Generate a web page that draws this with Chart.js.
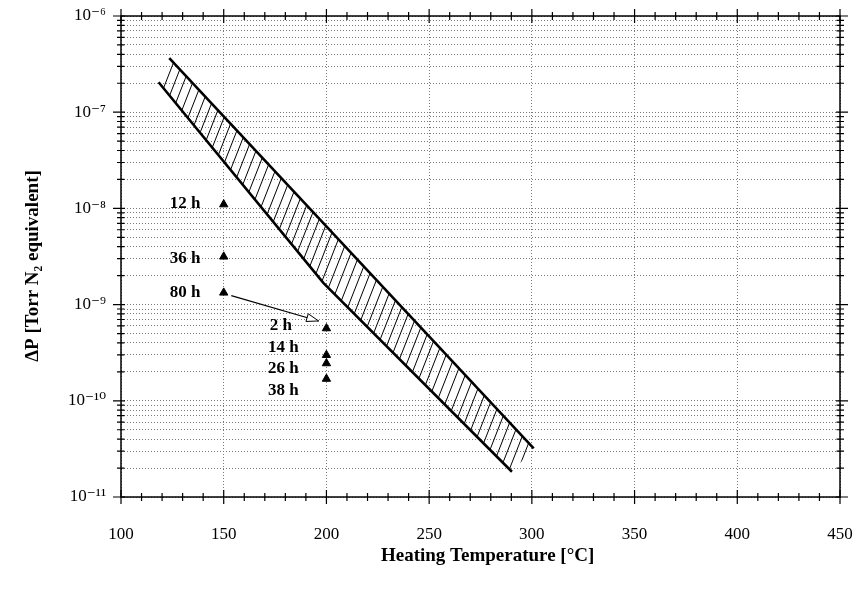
<!DOCTYPE html>
<html><head><meta charset="utf-8">
<script src="https://cdn.jsdelivr.net/npm/chart.js@4.4.0/dist/chart.umd.min.js"></script>
<style>html,body{margin:0;padding:0;background:#fff}</style>
</head><body>
<canvas id="c" width="857" height="600" style="width:857px;height:600px;display:block"></canvas>
<script>
// ---- data ----
const xTickLabels = [100, 150, 200, 250, 300, 350, 400, 450];
const yDecades = [1e-11, 1e-10, 1e-9, 1e-8, 1e-7, 1e-6];
const yTickLabels = ['10⁻¹¹', '10⁻¹⁰', '10⁻⁹', '10⁻⁸', '10⁻⁷', '10⁻⁶'];
const yMinorMultipliers = [1, 2, 3, 4, 5, 6, 7, 8, 9];

const bandUpper = [{x: 123.5, y: 3.64e-7}, {x: 300.9, y: 3.2e-11}];
const bandLower = [{x: 118.3, y: 2.05e-7}, {x: 198.5, y: 1.68e-9}, {x: 290.3, y: 1.83e-11}];

const pointTemps  = [150, 150, 150, 200, 200, 200, 200];
const pointValues = [1.1e-8, 3.15e-9, 1.33e-9, 5.66e-10, 2.99e-10, 2.45e-10, 1.69e-10];
const pointLabels = ['12 h', '36 h', '80 h', '2 h', '14 h', '26 h', '38 h'];
const labelTemps  = [138.7, 138.7, 138.7, 183.2, 186.5, 186.5, 186.5];
const labelValues = [1.11e-8, 2.98e-9, 1.32e-9, 6.1e-10, 3.56e-10, 2.18e-10, 1.27e-10];

const arrowFrom = {x: 153.7, y: 1.24e-9};
const arrowTo   = {x: 196.2, y: 6.76e-10};

// ---- build ----
const yTickValues = [];
yDecades.forEach(d => yMinorMultipliers.forEach(m => { const v = m * d; if (v <= 1.0000001e-6) yTickValues.push(v); }));

const SERIF = "'Liberation Serif', 'DejaVu Serif', serif";

function makeHatch() {
  const W = 9, H = 23;
  const c = document.createElement('canvas');
  c.width = W; c.height = H;
  const g = c.getContext('2d');
  g.strokeStyle = '#000';
  g.lineWidth = 1;
  for (const o of [-W, 0, W]) {
    g.beginPath(); g.moveTo(o, H); g.lineTo(o + W, 0); g.stroke();
  }
  return g.createPattern(c, 'repeat');
}

const decor = {
  id: 'decor',
  beforeDatasetsDraw(chart) {
    const {ctx, chartArea: a, scales: {x, y}} = chart;
    ctx.save();
    ctx.beginPath(); ctx.rect(a.left, a.top, a.right - a.left, a.bottom - a.top); ctx.clip();
    ctx.beginPath();
    bandUpper.forEach((p, i) => {
      const px = x.getPixelForValue(p.x), py = y.getPixelForValue(p.y);
      i ? ctx.lineTo(px, py) : ctx.moveTo(px, py);
    });
    bandLower.slice().reverse().forEach(p => ctx.lineTo(x.getPixelForValue(p.x), y.getPixelForValue(p.y)));
    ctx.closePath();
    ctx.fillStyle = makeHatch();
    ctx.fill();
    ctx.restore();
  },
  afterDraw(chart) {
    const {ctx, chartArea: a, scales: {x, y}} = chart;
    ctx.save();
    ctx.strokeStyle = '#000';
    ctx.lineWidth = 1.5;
    ctx.strokeRect(a.left, a.top, a.right - a.left, a.bottom - a.top);
    ctx.lineWidth = 1.2;
    ctx.beginPath();
    x.ticks.forEach(t => {
      const px = x.getPixelForValue(t.value);
      const major = Math.round(t.value) % 50 === 0;
      const L = major ? 7 : 4;
      ctx.moveTo(px, a.bottom - L); ctx.lineTo(px, a.bottom + L);
      ctx.moveTo(px, a.top - L); ctx.lineTo(px, a.top + L);
    });
    y.ticks.forEach(t => {
      const py = y.getPixelForValue(t.value);
      const major = yDecades.some(d => Math.abs(t.value / d - 1) < 1e-6);
      const out = major ? 8 : 4, inn = major ? 4 : 3.5;
      ctx.moveTo(a.left - out, py); ctx.lineTo(a.left + inn, py);
      ctx.moveTo(a.right - inn, py); ctx.lineTo(a.right + out, py);
    });
    ctx.stroke();
    const x0 = x.getPixelForValue(arrowFrom.x), y0 = y.getPixelForValue(arrowFrom.y);
    const x1 = x.getPixelForValue(arrowTo.x), y1 = y.getPixelForValue(arrowTo.y);
    const ang = Math.atan2(y1 - y0, x1 - x0);
    const hl = 12, hw = 4;
    const bx = x1 - hl * Math.cos(ang), by = y1 - hl * Math.sin(ang);
    ctx.beginPath();
    ctx.moveTo(x1, y1);
    ctx.lineTo(bx + hw * Math.sin(ang), by - hw * Math.cos(ang));
    ctx.lineTo(bx - hw * Math.sin(ang), by + hw * Math.cos(ang));
    ctx.closePath();
    ctx.fillStyle = '#fff'; ctx.fill();
    ctx.lineWidth = 1; ctx.strokeStyle = '#000'; ctx.stroke();
    ctx.fillStyle = '#000';
    ctx.font = 'bold 17px ' + SERIF;
    ctx.textAlign = 'right';
    ctx.textBaseline = 'middle';
    pointLabels.forEach((s, i) => ctx.fillText(s, x.getPixelForValue(labelTemps[i]), y.getPixelForValue(labelValues[i])));
    ctx.restore();
  }
};

new Chart(document.getElementById('c'), {
  type: 'scatter',
  data: {
    datasets: [
      {data: bandUpper, showLine: true, borderColor: '#000', borderWidth: 2.6, pointRadius: 0, fill: false},
      {data: bandLower, showLine: true, borderColor: '#000', borderWidth: 2.6, pointRadius: 0, fill: false},
      {data: [arrowFrom, arrowTo], showLine: true, borderColor: '#000', borderWidth: 1.1, pointRadius: 0, fill: false},
      {data: pointTemps.map((t, i) => ({x: t, y: pointValues[i]})), showLine: false, pointStyle: 'triangle',
       pointRadius: 4.8, backgroundColor: '#000', borderColor: '#000', borderWidth: 1}
    ]
  },
  options: {
    responsive: false,
    devicePixelRatio: 1,
    animation: false,
    layout: {padding: {left: 0, right: 17, top: 16, bottom: 0}},
    plugins: {legend: {display: false}, tooltip: {enabled: false}},
    scales: {
      x: {
        type: 'linear', min: 100, max: 450,
        afterFit: s => { s.height = 103; },
        ticks: {
          stepSize: 10, autoSkip: false, maxRotation: 0, padding: 0, color: '#000',
          font: {family: SERIF, size: 17},
          callback: v => xTickLabels.includes(Math.round(v)) ? String(Math.round(v)) : ''
        },
        grid: {
          drawTicks: true, tickLength: 27, tickColor: 'rgba(0,0,0,0)', lineWidth: 1,
          color: c => (c.tick && Math.round(c.tick.value) % 50 === 0) ? '#7a7a7a' : 'rgba(0,0,0,0)'
        },
        border: {display: false, dash: [1, 2]},
        title: {display: true, text: '   Heating Temperature [°C]', color: '#000',
                font: {family: SERIF, size: 19, weight: 'bold'}, padding: {top: 0, bottom: 33}}
      },
      y: {
        type: 'logarithmic', min: 1e-11, max: 1e-6,
        afterFit: s => { s.width = 121; },
        afterBuildTicks: s => { s.ticks = yTickValues.map(v => ({value: v})); },
        ticks: {
          autoSkip: false, padding: 0, color: '#000',
          font: {family: SERIF, size: 17},
          callback: v => {
            const i = yDecades.findIndex(d => Math.abs(v / d - 1) < 1e-6);
            return i >= 0 ? yTickLabels[i] : '';
          }
        },
        grid: {drawTicks: true, tickLength: 15, tickColor: 'rgba(0,0,0,0)', lineWidth: 1, color: '#7a7a7a'},
        border: {display: false, dash: [1, 2]},
        title: {display: true, text: 'ΔP [Torr N₂ equivalent]    ', color: '#000',
                font: {family: SERIF, size: 19, weight: 'bold'}, padding: {top: 22, bottom: 0}}
      }
    }
  },
  plugins: [decor]
});
</script>
</body></html>
